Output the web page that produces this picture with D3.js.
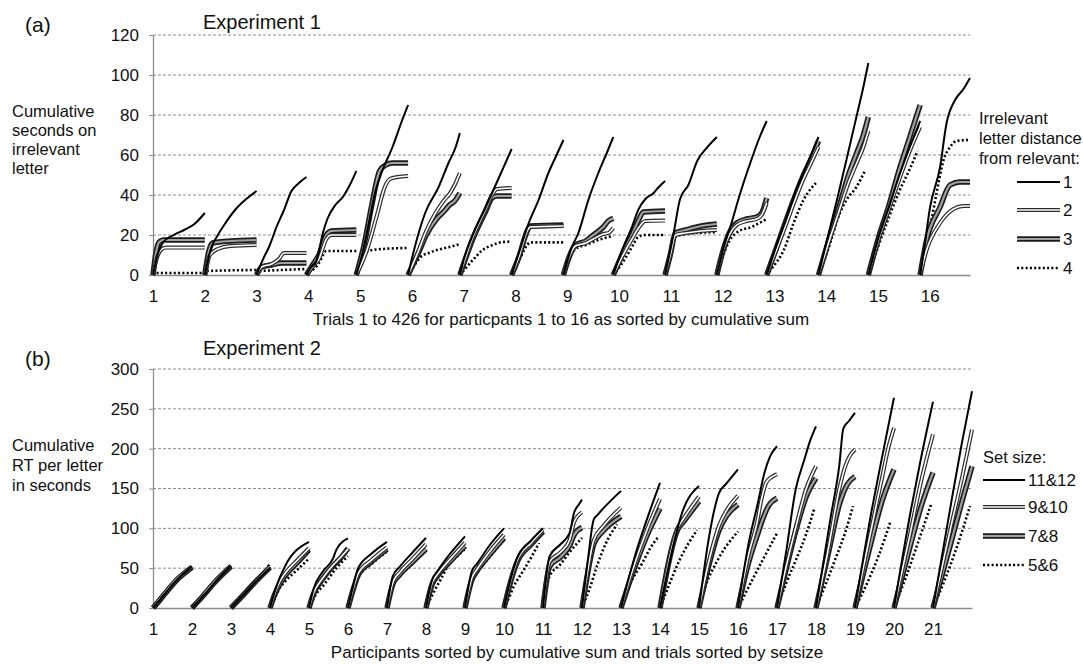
<!DOCTYPE html>
<html>
<head>
<meta charset="utf-8">
<script src="https://cdn.jsdelivr.net/npm/d3@7"></script>
<style>
  body { margin: 0; background: #fff; }
  text { font-family: "Liberation Sans", Arial, sans-serif; fill: #111; }
</style>
</head>
<body>
<svg id="chart" width="1083" height="664"></svg>
<script>
// ---- Experiment 1 data: cumulative seconds, points are [fraction of participant's trials, value]
const exp1Participants = d3.range(1, 17);
const exp1TrialStart = [0, 27, 54, 80, 106, 133, 160, 187, 214, 240, 267, 294, 320, 347, 373, 400];
const exp1LabelTrials = [0, 27, 54, 81, 108, 135, 162, 189, 216, 243, 270, 297, 324, 351, 378, 405];
const exp1TrialTotal = 426;
const exp1YTicks = [0, 20, 40, 60, 80, 100, 120];
const exp1Names = ["1", "2", "3", "4"];

const exp1Dist1 = [
  [[0,0],[0.1,11],[0.2,16.5],[0.4,20],[0.6,22.5],[0.8,25.5],[1,31]],
  [[0,0],[0.13,14],[0.23,19],[0.4,26],[0.6,33],[0.8,38],[1,42]],
  [[0,0],[0.15,9],[0.25,14],[0.4,24],[0.55,32.5],[0.7,42],[0.85,46],[1,49]],
  [[0,0],[0.1,4],[0.2,7],[0.33,21],[0.42,28],[0.58,35],[0.73,39],[0.87,45],[1,52]],
  [[0,0],[0.12,11],[0.25,27],[0.37,42],[0.5,52],[0.7,64],[0.88,77],[1,85]],
  [[0,0],[0.13,14],[0.33,31],[0.59,44],[0.78,56],[0.92,64],[1,71]],
  [[0,0],[0.08,8],[0.25,20],[0.5,34],[0.76,49],[0.88,56],[1,63]],
  [[0,0],[0.14,11],[0.33,26],[0.52,37.5],[0.71,51],[0.85,59],[1,67.5]],
  [[0,0],[0.17,14],[0.3,21],[0.5,37.5],[0.7,51],[0.87,61],[1,69]],
  [[0,0],[0.17,12.5],[0.36,24],[0.49,33],[0.62,38],[0.78,41],[0.88,44],[1,47]],
  [[0,0],[0.16,20],[0.29,38],[0.45,45],[0.62,57],[0.82,64],[1,69]],
  [[0,0],[0.14,14],[0.27,24],[0.47,41],[0.67,56],[0.86,69],[1,77]],
  [[0,0],[0.18,14],[0.37,27.5],[0.57,42.5],[0.71,51],[0.84,59],[1,69]],
  [[0,0],[0.17,17.5],[0.37,37.5],[0.56,57.5],[0.76,79],[0.9,94],[1,106]],
  [[0,0],[0.2,19],[0.4,34],[0.6,50],[0.8,64],[1,77]],
  [[0,0],[0.07,11],[0.2,34],[0.4,54],[0.53,76],[0.7,87.5],[0.87,93],[1,98.5]]
];
const exp1Dist2 = [
  [[0,0],[0.07,8],[0.15,12.5],[0.25,13.7],[1,13.7]],
  [[0,0],[0.1,10],[0.25,13],[0.5,14.5],[1,15]],
  [[0,0],[0.1,4],[0.3,5.5],[0.45,8],[0.55,11],[1,11]],
  [[0,0],[0.15,5],[0.25,8],[0.4,18],[0.5,20],[1,20]],
  [[0,0],[0.2,12],[0.4,30],[0.55,44],[0.65,48],[0.8,49],[1,49.5]],
  [[0,0],[0.2,12],[0.35,22],[0.53,31],[0.7,37.5],[0.8,40.5],[0.9,45],[1,51]],
  [[0,0],[0.25,19],[0.5,33],[0.62,40],[0.72,43],[1,43.5]],
  [[0,0],[0.14,9],[0.3,22],[0.36,24],[1,24.5]],
  [[0,0],[0.1,8],[0.24,14.5],[0.45,16],[0.6,18],[0.8,20.5],[0.9,21],[1,23.5]],
  [[0,0],[0.17,9],[0.36,18],[0.5,24],[0.62,27],[1,27.2]],
  [[0,0],[0.1,10],[0.2,20],[0.4,21],[0.7,22],[1,22.5]],
  [[0,0],[0.1,10],[0.25,20],[0.4,25],[0.6,27],[0.8,28],[0.9,30],[1,36]],
  [[0,0],[0.18,12],[0.37,25],[0.57,39],[0.71,48],[0.84,55],[1,64]],
  [[0,0],[0.2,16],[0.4,31],[0.6,46],[0.75,55],[0.9,64],[1,72]],
  [[0,0],[0.2,18],[0.4,33],[0.6,48],[0.8,62],[1,74]],
  [[0,0],[0.13,12.5],[0.4,26],[0.67,33],[0.87,34.5],[1,34.5]]
];
const exp1Dist3 = [
  [[0,0],[0.05,10],[0.12,16.5],[0.2,17.5],[1,17.5]],
  [[0,0],[0.08,12],[0.15,16],[0.5,17],[1,17.5]],
  [[0,0],[0.1,4],[0.3,5],[0.5,6],[1,6]],
  [[0,0],[0.15,6],[0.25,10],[0.4,20],[0.5,22],[1,22.5]],
  [[0,0],[0.15,15],[0.3,35],[0.45,52],[0.57,55],[0.7,56],[1,56]],
  [[0,0],[0.2,11],[0.35,20],[0.55,28],[0.7,32],[0.8,35],[0.9,37],[1,41]],
  [[0,0],[0.25,18],[0.5,32],[0.62,38.5],[0.72,39.5],[1,39.5]],
  [[0,0],[0.14,9],[0.3,22],[0.36,24.5],[1,25]],
  [[0,0],[0.1,8],[0.24,15],[0.45,17],[0.6,20],[0.8,24],[0.9,27],[1,28.3]],
  [[0,0],[0.17,10],[0.36,20],[0.5,28],[0.58,31.5],[1,32]],
  [[0,0],[0.1,10],[0.2,21],[0.4,22.5],[0.7,24.5],[1,25.5]],
  [[0,0],[0.1,10],[0.25,21],[0.4,26],[0.6,28],[0.8,29],[0.9,31],[1,38.5]],
  [[0,0],[0.18,13],[0.37,27],[0.57,41],[0.71,50],[0.84,57],[1,67]],
  [[0,0],[0.2,17],[0.4,33],[0.6,50],[0.75,60],[0.9,70],[1,79]],
  [[0,0],[0.2,19],[0.4,35],[0.6,53],[0.8,69],[1,85]],
  [[0,0],[0.13,17.5],[0.4,34],[0.6,45],[0.8,46.5],[1,46.5]]
];
const exp1Dist4 = [
  [[0,0],[0.05,1],[1,1]],
  [[0,0],[0.05,2],[1,2.5]],
  [[0,0],[0.1,2],[0.5,2.5],[1,3]],
  [[0,0],[0.05,2],[0.15,3],[0.25,6],[0.4,12],[1,12]],
  [[0,0],[0.08,6],[0.2,12],[0.5,13],[1,13.5]],
  [[0,0],[0.1,4],[0.24,9],[0.4,11],[0.56,12.5],[0.8,14],[1,15.5]],
  [[0,0],[0.1,3],[0.25,7.5],[0.44,12.5],[0.63,15],[0.83,16.5],[1,16.7]],
  [[0,0],[0.14,7],[0.3,15],[0.36,16.3],[1,16.3]],
  [[0,0],[0.1,7],[0.24,13],[0.45,15],[0.7,17.5],[0.9,19],[1,19.5]],
  [[0,0],[0.2,7],[0.36,14],[0.48,19],[0.6,20],[1,20]],
  [[0,0],[0.1,9],[0.2,19],[0.4,20.5],[1,21.5]],
  [[0,0],[0.1,8],[0.25,17],[0.45,22],[0.7,24],[0.85,26],[1,28]],
  [[0,0],[0.12,4],[0.33,12.5],[0.52,26],[0.71,37.5],[0.95,46]],
  [[0,0],[0.17,11],[0.43,31],[0.56,37.5],[0.76,44],[0.93,52]],
  [[0,0],[0.2,15],[0.4,29],[0.6,42],[0.8,53],[0.95,62]],
  [[0,0],[0.2,24],[0.33,41],[0.47,57.5],[0.6,64],[0.73,67],[1,67.5]]
];

// ---- Experiment 2 data: cumulative RT per letter (s), points are [fraction of participant's trials, value]
const exp2Participants = d3.range(1, 22);
const exp2Start = d3.range(0, 21);
const exp2YTicks = [0, 50, 100, 150, 200, 250, 300];
const exp2Names = ["11&12", "9&10", "7&8", "5&6"];

const exp2Set1112 = [
  [[0,0],[0.1,6],[0.3,18],[0.6,35],[1,52]],
  [[0,0],[0.3,16],[0.6,33],[1,53]],
  [[0,0],[0.3,15],[0.6,31],[1,51]],
  [[0,0],[0.12,20],[0.25,38],[0.38,52],[1,83]],
  [[0,0],[0.11,23],[0.36,46],[0.62,62.5],[0.7,73],[1,87.5]],
  [[0,0],[0.12,25],[0.26,50],[0.6,68],[1,83]],
  [[0,0],[0.15,40],[0.33,52],[0.66,70],[1,88]],
  [[0,0],[0.16,36],[0.29,46],[0.65,70],[1,90]],
  [[0,0],[0.18,47],[0.3,55],[0.65,80],[1,100]],
  [[0,0],[0.17,36],[0.34,63],[0.7,85],[1,100]],
  [[0,0],[0.17,65],[0.45,80],[0.68,94],[0.8,120],[0.92,130],[1,136]],
  [[0,0],[0.15,60],[0.3,111],[0.4,117],[1,147]],
  [[0,0],[0.2,38],[0.38,69],[0.72,119],[1,157]],
  [[0,0],[0.45,100],[0.55,117],[1,153]],
  [[0,0],[0.26,90],[0.51,144],[0.7,156],[1,174]],
  [[0,0],[0.26,78],[0.51,132],[0.68,170],[0.82,190],[1,203]],
  [[0,0],[0.23,69],[0.48,149],[0.7,186],[0.85,210],[1,228]],
  [[0,0],[0.38,115],[0.6,180],[0.7,225],[0.85,235],[1,245]],
  [[0,0],[0.43,123],[0.68,186],[1,264]],
  [[0,0],[0.43,122],[0.68,185],[1,259]],
  [[0,0],[0.48,136],[0.74,207],[1,272]]
];
const exp2Set910 = [
  [[0,0],[0.1,7],[0.3,19],[0.6,36],[1,52]],
  [[0,0],[0.3,17],[0.6,34],[1,53]],
  [[0,0],[0.3,15],[0.6,31],[1,52]],
  [[0,0],[0.12,18],[0.25,33],[0.38,43],[0.7,60],[1,75]],
  [[0,0],[0.11,18],[0.36,38],[0.62,54],[0.8,63],[1,74]],
  [[0,0],[0.12,22],[0.26,43],[0.6,60],[1,76]],
  [[0,0],[0.15,32],[0.33,45],[0.66,62],[1,80]],
  [[0,0],[0.16,32],[0.29,42],[0.65,63],[1,82]],
  [[0,0],[0.18,38],[0.3,48],[0.65,72],[1,92]],
  [[0,0],[0.17,34],[0.34,60],[0.7,82],[1,98]],
  [[0,0],[0.17,58],[0.45,70],[0.68,85],[0.8,108],[1,120]],
  [[0,0],[0.15,48],[0.3,85],[0.55,103],[1,126]],
  [[0,0],[0.2,33],[0.38,60],[0.72,105],[1,137]],
  [[0,0],[0.45,100],[0.6,112],[1,140]],
  [[0,0],[0.26,60],[0.51,103],[0.7,122],[1,141]],
  [[0,0],[0.26,65],[0.5,110],[0.6,136],[0.72,157],[0.85,164],[1,168]],
  [[0,0],[0.25,55],[0.5,105],[0.75,150],[0.9,168],[1,178]],
  [[0,0],[0.3,70],[0.6,150],[0.75,178],[0.88,192],[1,199]],
  [[0,0],[0.4,95],[0.7,165],[0.85,200],[1,226]],
  [[0,0],[0.4,90],[0.7,160],[1,218]],
  [[0,0],[0.45,100],[0.75,165],[0.9,200],[1,224]]
];
const exp2Set78 = [
  [[0,0],[0.1,5.5],[0.3,17.5],[0.6,34.5],[1,51]],
  [[0,0],[0.3,16],[0.6,33],[1,52]],
  [[0,0],[0.3,15.5],[0.6,31.5],[1,51]],
  [[0,0],[0.12,17],[0.25,30],[0.38,40],[0.7,57],[1,73]],
  [[0,0],[0.11,17],[0.36,37],[0.62,53],[0.8,62],[1,75]],
  [[0,0],[0.12,21],[0.26,41],[0.6,58],[1,74]],
  [[0,0],[0.15,30],[0.33,42],[0.66,58],[1,74]],
  [[0,0],[0.16,30],[0.29,40],[0.65,60],[1,78]],
  [[0,0],[0.18,36],[0.3,46],[0.65,68],[1,88]],
  [[0,0],[0.17,33],[0.34,58],[0.7,80],[1,96]],
  [[0,0],[0.17,52],[0.45,64],[0.68,78],[0.8,92],[1,101]],
  [[0,0],[0.15,45],[0.3,80],[0.55,97],[1,115]],
  [[0,0],[0.2,30],[0.38,55],[0.72,97],[1,125]],
  [[0,0],[0.45,98],[0.6,108],[1,134]],
  [[0,0],[0.26,55],[0.51,97],[0.7,115],[1,130]],
  [[0,0],[0.26,55],[0.5,92],[0.6,107],[0.78,128],[1,138]],
  [[0,0],[0.25,52],[0.5,100],[0.75,140],[1,163]],
  [[0,0],[0.3,65],[0.6,130],[0.8,155],[1,165]],
  [[0,0],[0.4,80],[0.7,135],[1,174]],
  [[0,0],[0.4,75],[0.7,128],[1,170]],
  [[0,0],[0.45,80],[0.75,135],[1,178]]
];
const exp2Set56 = [
  [[0,0],[0.1,5],[0.3,17],[0.6,34],[1,50.5]],
  [[0,0],[0.3,16],[0.6,33],[1,52]],
  [[0,0],[0.3,16],[0.6,33],[0.9,48],[1,56]],
  [[0,0],[0.12,12],[0.25,25],[0.38,33],[0.7,48],[1,62]],
  [[0,0],[0.15,15],[0.4,30],[0.7,50],[1,65]],
  [[0,0],[0.12,20],[0.26,38],[0.6,55],[1,71]],
  [[0,0],[0.15,28],[0.33,40],[0.66,56],[1,72]],
  [[0,0],[0.1,10],[0.21,21],[0.38,36],[0.55,52],[0.8,65],[1,74]],
  [[0,0],[0.18,33],[0.3,43],[0.65,65],[1,85]],
  [[0,0],[0.12,12],[0.25,27],[0.51,48],[0.76,69],[0.9,82]],
  [[0,0],[0.17,40],[0.45,55],[0.68,70],[1,88]],
  [[0,0],[0.2,25],[0.4,55],[0.6,80],[0.9,105]],
  [[0,0],[0.2,27],[0.54,56],[0.75,75],[0.97,90]],
  [[0,0],[0.2,25],[0.5,60],[0.95,98]],
  [[0,0],[0.15,25],[0.5,62],[1,96]],
  [[0,0],[0.25,24],[0.5,48],[0.75,71],[1,94]],
  [[0,0],[0.25,33],[0.5,62],[0.75,93],[0.95,124]],
  [[0,0],[0.25,30],[0.5,62],[0.75,95],[0.95,128]],
  [[0,0],[0.3,30],[0.6,65],[0.9,107]],
  [[0,0],[0.3,38],[0.6,80],[0.95,130]],
  [[0,0],[0.3,35],[0.6,75],[0.95,128]]
];

// line looks: index matches series order (solid, thin double, thick double, dotted)
const STYLES = [
  [{ stroke: '#000', width: 2 }],
  [{ stroke: '#2b2b2b', width: 4 }, { stroke: '#fff', width: 1.6 }],
  [{ stroke: '#1c1c1c', width: 5.5 }, { stroke: '#a0a0a0', width: 2.2 }],
  [{ stroke: '#000', width: 2.6, dash: '2,2.3' }]
];
const LEFT = 153;
const FONT = '"Liberation Sans", Arial, sans-serif';

const svg = d3.select('#chart');

function strokePath(sel, d, style) {
  style.forEach(s => {
    sel.append('path')
      .attr('d', d)
      .attr('fill', 'none')
      .attr('stroke', s.stroke)
      .attr('stroke-width', s.width)
      .attr('stroke-linejoin', 'round')
      .attr('stroke-dasharray', s.dash || null);
  });
}

function drawPanel(p) {
  const x = d3.scaleLinear().domain([0, p.total]).range([LEFT, p.right]);
  const y = d3.scaleLinear().domain([0, p.yMax]).range([p.bottom, p.top]);
  const g = svg.append('g');

  // dashed grid
  g.selectAll('line.grid')
    .data(p.yTicks.filter(t => t > 0))
    .join('line')
    .attr('class', 'grid')
    .attr('x1', LEFT).attr('x2', p.right)
    .attr('y1', d => y(d)).attr('y2', d => y(d))
    .attr('stroke', '#8c8c8c')
    .attr('stroke-dasharray', '3,2');

  // y axis
  const yAxis = g.append('g')
    .attr('transform', `translate(${LEFT},0)`)
    .call(d3.axisLeft(y).tickValues(p.yTicks).tickSize(4).tickSizeOuter(0).tickPadding(10));
  yAxis.select('.domain').attr('stroke', '#8c8c8c').attr('stroke-width', 1.3);
  yAxis.selectAll('.tick line').attr('stroke', '#8c8c8c');
  yAxis.selectAll('.tick text')
    .style('font-family', FONT).style('font-size', '17px').attr('fill', '#111');

  // x axis: participant numbers
  const xAxis = g.append('g')
    .attr('transform', `translate(0,${p.bottom})`)
    .call(d3.axisBottom(x).tickValues(p.labelAt).tickFormat((d, i) => p.participants[i])
      .tickSize(0).tickPadding(15));
  xAxis.select('.domain').attr('stroke', '#8c8c8c').attr('stroke-width', 1.3);
  xAxis.selectAll('.tick text')
    .style('font-family', FONT).style('font-size', '17px').attr('fill', '#111');

  // curves, drawn dotted first and solid last
  const line = d3.line()
    .x(d => x(d[0]))
    .y(d => y(d[1]))
    .curve(d3.curveMonotoneX);
  [3, 2, 1, 0].forEach(si => {
    const sg = g.append('g');
    p.series[si].forEach((pts, i) => {
      const a = p.starts[i];
      const b = i + 1 < p.starts.length ? p.starts[i + 1] : p.total;
      const mapped = pts.map(([f, v]) => [a + f * (b - a), v]);
      strokePath(sg, line(mapped), STYLES[si]);
    });
  });

  // texts
  g.append('text').attr('x', 25).attr('y', p.tagY).style('font-size', '21px').text(p.tag);
  g.append('text').attr('x', 203).attr('y', p.titleY).style('font-size', '20px').text(p.title);
  g.append('text').selectAll('tspan').data(p.yLabel).join('tspan')
    .attr('x', 12).attr('y', (d, i) => p.yLabelY + i * p.yLabelStep)
    .style('font-size', '16.5px').text(d => d);
  g.append('text').attr('x', p.xLabelX).attr('y', p.xLabelY)
    .attr('text-anchor', 'middle').style('font-size', '17px').text(p.xLabel);

  // legend
  const lg = g.append('g');
  lg.append('text').selectAll('tspan').data(p.legendTitle).join('tspan')
    .attr('x', p.legendTextX).attr('y', (d, i) => p.legendTitleY + i * 20)
    .style('font-size', '16.5px').text(d => d);
  p.names.forEach((n, si) => {
    const yy = p.legendY[si];
    strokePath(lg, `M${p.legendX0},${yy}H${p.legendX1}`, STYLES[si]);
    lg.append('text').attr('x', p.legendX1 + 3).attr('y', yy + 6)
      .style('font-size', '17px').text(n);
  });
}

drawPanel({
  participants: exp1Participants,
  starts: exp1TrialStart,
  labelAt: exp1LabelTrials,
  total: exp1TrialTotal,
  series: [exp1Dist1, exp1Dist2, exp1Dist3, exp1Dist4],
  names: exp1Names,
  yTicks: exp1YTicks, yMax: 120,
  right: 970, top: 35, bottom: 275,
  tag: '(a)', tagY: 32,
  title: 'Experiment 1', titleY: 29,
  yLabel: ['Cumulative', 'seconds on', 'irrelevant', 'letter'], yLabelY: 117, yLabelStep: 19,
  xLabel: 'Trials 1 to 426 for particpants 1 to 16 as sorted by cumulative sum', xLabelX: 561, xLabelY: 325,
  legendTitle: ['Irrelevant', 'letter distance', 'from relevant:'], legendTextX: 979, legendTitleY: 124,
  legendX0: 1017, legendX1: 1060, legendY: [182, 210, 239, 268]
});

drawPanel({
  participants: exp2Participants,
  starts: exp2Start,
  labelAt: exp2Start,
  total: 21,
  series: [exp2Set1112, exp2Set910, exp2Set78, exp2Set56],
  names: exp2Names,
  yTicks: exp2YTicks, yMax: 300,
  right: 972, top: 369, bottom: 608,
  tag: '(b)', tagY: 366,
  title: 'Experiment 2', titleY: 355,
  yLabel: ['Cumulative', 'RT per letter', 'in seconds'], yLabelY: 451, yLabelStep: 20,
  xLabel: 'Participants sorted by cumulative sum and trials sorted by setsize', xLabelX: 577, xLabelY: 658,
  legendTitle: ['Set size:'], legendTextX: 983, legendTitleY: 463,
  legendX0: 983, legendX1: 1025, legendY: [480, 507, 536, 565]
});
</script>
</body>
</html>
